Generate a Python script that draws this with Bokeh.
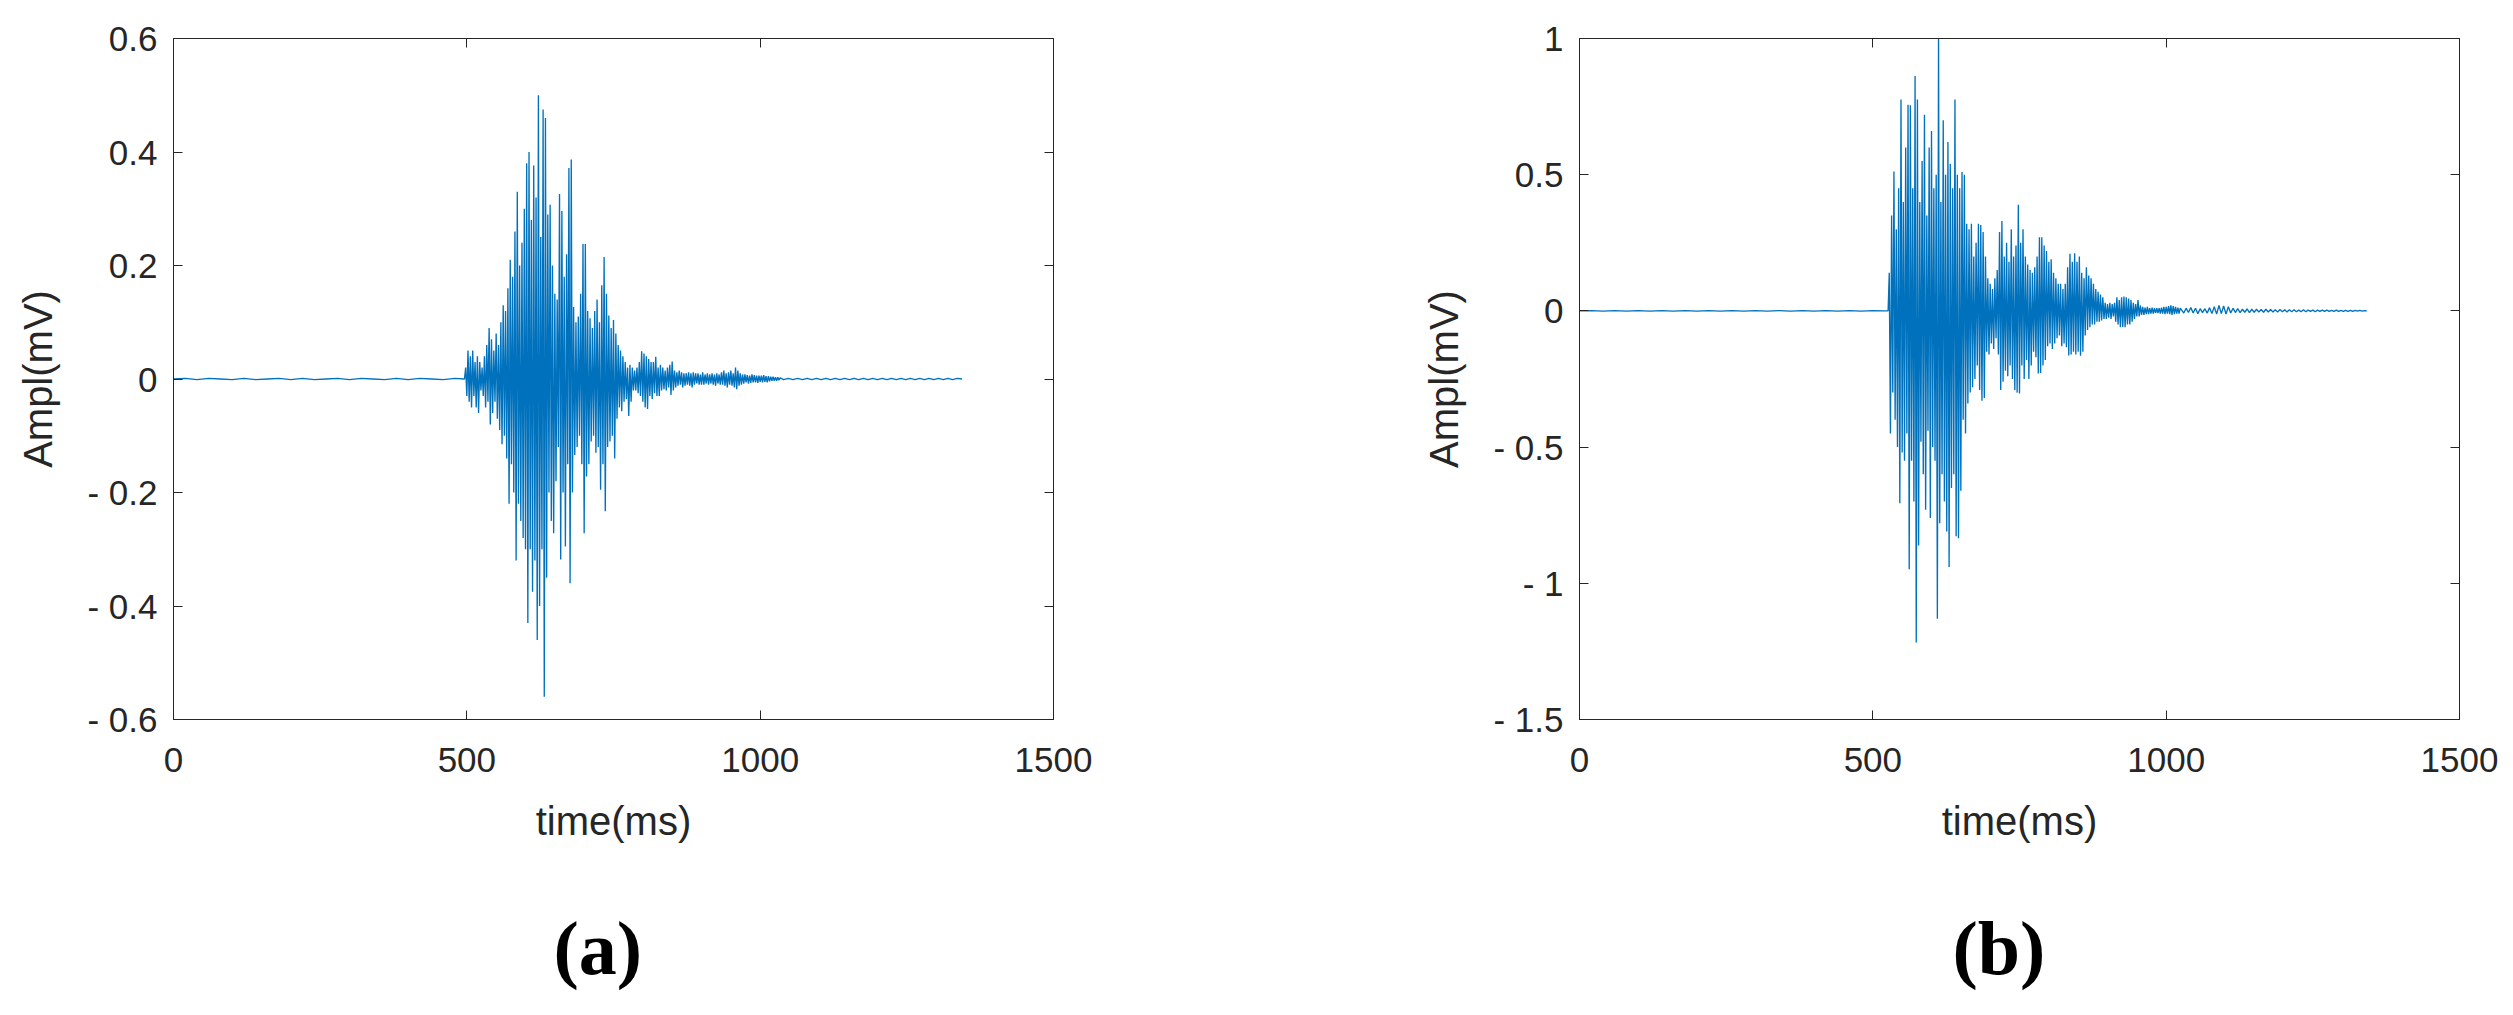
from bokeh.plotting import figure
from bokeh.models import LinearAxis, FixedTicker, Range1d
from bokeh.layouts import row
from bokeh.embed import file_html
from bokeh.resources import INLINE

# ---------------- data ----------------
# sampling grids (ms): pre-event, main event, tail
A_PRE_START, A_PRE_STEP = 0, 20
A_MAIN_START, A_MAIN_STEP = 496, 2
A_TAIL_START, A_TAIL_STEP = 1040, 8

A_PRE = [0.000, 0.001, -0.001, 0.001, 0.000, -0.001, 0.001, -0.001, 0.000, 0.001,
         -0.001, 0.001, -0.001, 0.000, 0.001, -0.001, 0.001, 0.000, -0.001, 0.001,
         -0.001, 0.001, 0.000, -0.001, 0.001]
A_MAIN = [
    0.0, 0.02, -0.03, 0.05, -0.04, 0.04, -0.05, 0.05, -0.03, 0.03,
    -0.05, 0.04, -0.06, 0.03, -0.02, 0.02, -0.03, 0.04, -0.05, 0.06,
    -0.04, 0.09, -0.08, 0.07, -0.06, 0.05, -0.04, 0.08, -0.07, 0.06,
    -0.09, 0.10, -0.115, 0.13, -0.10, 0.12, -0.14, 0.16, -0.22, 0.21,
    -0.15, 0.18, -0.20, 0.26, -0.32, 0.33, -0.22, 0.20, -0.25, 0.24,
    -0.28, 0.30, -0.30, 0.38, -0.43, 0.40, -0.30, 0.28, -0.375, 0.376,
    -0.32, 0.32, -0.46, 0.50, -0.40, 0.25, -0.30, 0.475, -0.56, 0.46,
    -0.35, 0.29, -0.20, 0.307, -0.25, 0.20, -0.272, 0.15, -0.18, 0.14,
    -0.12, 0.326, -0.318, 0.296, -0.20, 0.18, -0.295, 0.22, -0.15, 0.372,
    -0.36, 0.387, -0.20, 0.127, -0.134, 0.10, -0.12, 0.11, -0.10, 0.15,
    -0.15, 0.238, -0.272, 0.238, -0.172, 0.12, -0.15, 0.107, -0.11, 0.09,
    -0.10, 0.12, -0.13, 0.14, -0.12, 0.10, -0.195, 0.165, -0.15, 0.215,
    -0.233, 0.15, -0.12, 0.112, -0.11, 0.09, -0.10, 0.104, -0.14, 0.08,
    -0.07, 0.06, -0.05, 0.05, -0.057, 0.04, -0.04, 0.03, -0.035, 0.02,
    -0.065, 0.025, -0.04, 0.02, -0.02, 0.015, -0.02, 0.02, -0.025, 0.03,
    -0.03, 0.049, -0.04, 0.045, -0.05, 0.04, -0.053, 0.035, -0.03, 0.03,
    -0.035, 0.03, -0.025, 0.039, -0.03, 0.02, -0.03, 0.025, -0.02, 0.02,
    -0.018, 0.015, -0.02, 0.02, -0.015, 0.025, -0.028, 0.031, -0.02, 0.015,
    -0.015, 0.012, -0.012, 0.015, -0.01, 0.012, -0.015, 0.01, -0.012, 0.01,
    -0.01, 0.012, -0.012, 0.01, -0.015, 0.012, -0.01, 0.01, -0.008, 0.01,
    -0.01, 0.008, -0.01, 0.012, -0.01, 0.008, -0.008, 0.01, -0.01, 0.008,
    -0.008, 0.01, -0.01, 0.008, -0.012, 0.01, -0.008, 0.008, -0.01, 0.012,
    -0.01, 0.015, -0.012, 0.01, -0.015, 0.012, -0.01, 0.015, -0.012, 0.01,
    -0.015, 0.02, -0.018, 0.015, -0.012, 0.01, -0.01, 0.008, -0.008, 0.008,
    -0.006, 0.007, -0.008, 0.006, -0.007, 0.008, -0.006, 0.007, -0.006, 0.006,
    -0.007, 0.006, -0.005, 0.006, -0.006, 0.007, -0.005, 0.005, -0.006, 0.005,
    -0.004, 0.004, -0.003, 0.004, -0.003, 0.003, -0.003, 0.003, -0.002, 0.002,
]
A_TAIL = [-0.001, 0.001, -0.001, 0.001, -0.001, 0.001, -0.001, 0.001, -0.001, 0.001,
          -0.001, 0.001, -0.001, 0.001, -0.001, 0.001, -0.001, 0.001, -0.001, 0.001,
          -0.001, 0.001, -0.001, 0.001, -0.001, 0.001, -0.001, 0.001, -0.001, 0.001,
          -0.001, 0.001, -0.001, 0.001, -0.001, 0.001, -0.001, 0.001, 0.000]

B_PRE_START, B_PRE_STEP = 0, 20
B_MAIN_START, B_MAIN_STEP = 526, 2
B_TAIL_START, B_TAIL_STEP = 1030, 4

B_PRE = [0.000, 0.001, -0.001, 0.001, -0.001, 0.001, -0.001, 0.001, -0.001, 0.001,
         -0.001, 0.001, -0.001, 0.001, -0.001, 0.001, -0.001, 0.001, -0.001, 0.001,
         -0.001, 0.001, -0.001, 0.001, -0.001, 0.001, 0.000]
B_MAIN = [
    0.0, 0.14, -0.45, 0.35, -0.30, 0.512, -0.40, 0.30, -0.50, 0.45,
    -0.706, 0.776, -0.52, 0.40, -0.55, 0.60, -0.45, 0.757, -0.948, 0.755,
    -0.55, 0.45, -0.70, 0.862, -1.217, 0.776, -0.861, 0.40, -0.48, 0.55,
    -0.60, 0.72, -0.73, 0.35, -0.44, 0.60, -0.76, 0.66, -0.50, 0.45,
    -0.55, 0.50, -1.13, 1.0, -0.78, 0.40, -0.60, 0.70, -0.70, 0.50,
    -0.81, 0.62, -0.94, 0.54, -0.65, 0.45, -0.60, 0.776, -0.827, 0.50,
    -0.835, 0.45, -0.66, 0.51, -0.40, 0.50, -0.45, 0.32, -0.34, 0.30,
    -0.30, 0.32, -0.28, 0.20, -0.25, 0.25, -0.20, 0.32, -0.29, 0.315,
    -0.33, 0.29, -0.32, 0.20, -0.15, 0.12, -0.16, 0.10, -0.12, 0.08,
    -0.14, 0.12, -0.10, 0.15, -0.16, 0.29, -0.29, 0.33, -0.26, 0.20,
    -0.22, 0.25, -0.24, 0.18, -0.20, 0.30, -0.25, 0.20, -0.29, 0.24,
    -0.30, 0.39, -0.303, 0.25, -0.20, 0.30, -0.25, 0.20, -0.18, 0.17,
    -0.25, 0.15, -0.20, 0.14, -0.15, 0.16, -0.17, 0.20, -0.23, 0.27,
    -0.228, 0.27, -0.20, 0.24, -0.18, 0.22, -0.13, 0.18, -0.12, 0.19,
    -0.14, 0.14, -0.12, 0.12, -0.10, 0.10, -0.09, 0.10, -0.13, 0.08,
    -0.12, 0.10, -0.133, 0.16, -0.164, 0.21, -0.16, 0.18, -0.15, 0.212,
    -0.16, 0.18, -0.15, 0.20, -0.165, 0.14, -0.15, 0.12, -0.09, 0.16,
    -0.07, 0.13, -0.06, 0.12, -0.05, 0.10, -0.05, 0.08, -0.04, 0.07,
    -0.04, 0.06, -0.035, 0.05, -0.03, 0.03, -0.03, 0.025, -0.025, 0.03,
    -0.03, 0.025, -0.02, 0.03, -0.04, 0.05, -0.05, 0.04, -0.06, 0.05,
    -0.059, 0.053, -0.06, 0.05, -0.05, 0.045, -0.05, 0.04, -0.04, 0.03,
    -0.03, 0.025, -0.02, 0.04, -0.02, 0.02, -0.015, 0.015, -0.015, 0.012,
    -0.012, 0.015, -0.012, 0.01, -0.01, 0.012, -0.01, 0.01, -0.008, 0.01,
    -0.008, 0.01, -0.01, 0.012, -0.01, 0.015, -0.012, 0.015, -0.01, 0.018,
    -0.012, 0.02, -0.015, 0.018, -0.012, 0.015, -0.01, 0.012, -0.01, 0.01,
]
B_TAIL = [-0.008, 0.010, -0.006, 0.012, -0.008, 0.010, -0.010, 0.008, -0.006, 0.008,
          -0.008, 0.012, -0.010, 0.015, -0.012, 0.020, -0.010, 0.018, -0.012, 0.015,
          -0.008, 0.010, -0.006, 0.008, -0.006, 0.006, -0.005, 0.007, -0.006, 0.006,
          -0.005, 0.006, -0.004, 0.005, -0.005, 0.006, -0.004, 0.005, -0.004, 0.004,
          -0.004, 0.005, -0.003, 0.004, -0.004, 0.004, -0.003, 0.004, -0.003, 0.003,
          -0.003, 0.004, -0.003, 0.003, -0.002, 0.003, -0.003, 0.003, -0.002, 0.003,
          -0.002, 0.003, -0.002, 0.002, -0.002, 0.003, -0.002, 0.002, -0.002, 0.002,
          -0.002, 0.002, -0.002, 0.002, -0.001, 0.002, -0.001, 0.001, 0.000]

X_TICKS = [0, 500, 1000, 1500]
X_TICK_LABELS = ["0", "500", "1000", "1500"]
A_Y_TICKS = [-0.6, -0.4, -0.2, 0, 0.2, 0.4, 0.6]
A_Y_TICK_LABELS = ["- 0.6", "- 0.4", "- 0.2", "0", "0.2", "0.4", "0.6"]
B_Y_TICKS = [-1.5, -1, -0.5, 0, 0.5, 1]
B_Y_TICK_LABELS = ["- 1.5", "- 1", "- 0.5", "0", "0.5", "1"]
X_LABEL = "time(ms)"
Y_LABEL = "Ampl(mV)"
CAPTIONS = ["(a)", "(b)"]


def series(parts):
    xs, ys = [], []
    for start, step, vals in parts:
        xs += [start + step * i for i in range(len(vals))]
        ys += vals
    return xs, ys


LINE = "#0072BD"
AX = "#262626"
FONT = "Liberation Sans"


def make_plot(xs, ys, yr, yticks, ylabels, border_left, border_right, caption, cap_offset):
    p = figure(frame_width=880, frame_height=681, x_range=Range1d(0, 1500), y_range=Range1d(*yr),
               output_backend="svg", toolbar_location=None,
               min_border_left=border_left, min_border_right=border_right,
               min_border_top=38, min_border_bottom=294,
               background_fill_color="white", border_fill_color="white",
               title=caption, title_location="below")
    p.grid.visible = False
    p.outline_line_color = AX
    p.outline_line_width = 1
    p.line(xs, ys, line_color=LINE, line_width=1.35)

    p.xaxis.ticker = FixedTicker(ticks=X_TICKS)
    p.xaxis.major_label_overrides = dict(zip(X_TICKS, X_TICK_LABELS))
    p.yaxis.ticker = FixedTicker(ticks=yticks)
    p.yaxis.major_label_overrides = dict(zip(yticks, ylabels))
    p.xaxis.axis_label = X_LABEL
    p.yaxis.axis_label = Y_LABEL
    for ax in (p.xaxis[0], p.yaxis[0]):
        ax.major_tick_in = 9
        ax.major_tick_out = 0
        ax.minor_tick_line_color = None
        ax.axis_line_color = AX
        ax.major_tick_line_color = AX
        ax.major_label_text_font = FONT
        ax.major_label_text_font_size = "35px"
        ax.major_label_text_color = AX
        ax.axis_label_text_font = FONT
        ax.axis_label_text_font_size = "40px"
        ax.axis_label_text_font_style = "normal"
        ax.axis_label_text_color = AX
    p.xaxis.major_label_standoff = 28
    p.xaxis.axis_label_standoff = 24
    p.yaxis.major_label_standoff = 16
    p.yaxis.axis_label_standoff = 24

    # mirrored ticks on top and right (MATLAB box)
    top = LinearAxis(ticker=FixedTicker(ticks=X_TICKS),
                     major_label_overrides={t: "" for t in X_TICKS})
    right = LinearAxis(ticker=FixedTicker(ticks=yticks),
                       major_label_overrides={t: "" for t in yticks})
    for ax in (top, right):
        ax.major_tick_in = 9
        ax.major_tick_out = 0
        ax.minor_tick_line_color = None
        ax.axis_line_color = AX
        ax.major_tick_line_color = AX
        ax.major_label_standoff = 0
        ax.major_label_text_font_size = "1px"
    p.add_layout(top, "above")
    p.add_layout(right, "right")

    p.title.align = "left"
    p.title.offset = cap_offset
    p.title.standoff = 116
    p.title.text_font = "Liberation Serif"
    p.title.text_font_style = "bold"
    p.title.text_font_size = "76px"
    p.title.text_color = "black"
    return p


ax_, ay_ = series([(A_PRE_START, A_PRE_STEP, A_PRE), (A_MAIN_START, A_MAIN_STEP, A_MAIN),
                   (A_TAIL_START, A_TAIL_STEP, A_TAIL)])
bx_, by_ = series([(B_PRE_START, B_PRE_STEP, B_PRE), (B_MAIN_START, B_MAIN_STEP, B_MAIN),
                   (B_TAIL_START, B_TAIL_STEP, B_TAIL)])

pa = make_plot(ax_, ay_, (-0.6, 0.6), A_Y_TICKS, A_Y_TICK_LABELS, 173, 247, CAPTIONS[0], 380)
pb = make_plot(bx_, by_, (-1.5, 1.0), B_Y_TICKS, B_Y_TICK_LABELS, 279, 53, CAPTIONS[1], 373)

layout = row(pa, pb, spacing=0)
open("out.html", "w").write(file_html(layout, INLINE))
